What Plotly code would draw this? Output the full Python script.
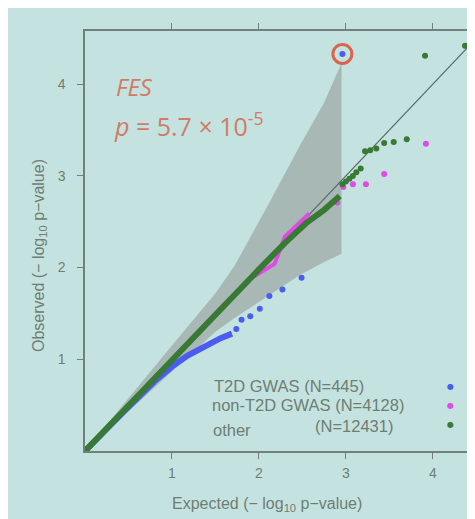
import plotly.graph_objects as go

# ---- data ----
X_RANGE = [0, 4.45]
Y_RANGE = [0, 4.58]
TICKS = [1, 2, 3, 4]

# 95% band (T2D GWAS)
BAND_X = [0, 0.5, 1.0, 1.5, 1.72, 2.08, 2.47, 2.75, 2.95]
BAND_UPPER = [0, 0.58, 1.15, 1.72, 2.02, 2.64, 3.33, 3.80, 4.23]
BAND_LOWER = [0, 0.43, 0.86, 1.30, 1.45, 1.68, 1.92, 2.06, 2.15]

# T2D GWAS (blue)
BLUE_DENSE_X = [0, 0.25, 0.5, 0.8, 1.0, 1.18, 1.37, 1.56, 1.69]
BLUE_DENSE_Y = [0, 0.25, 0.48, 0.76, 0.92, 1.04, 1.14, 1.23, 1.28]
BLUE_X = [1.74, 1.80, 1.90, 2.01, 2.12, 2.27, 2.49, 2.96]
BLUE_Y = [1.33, 1.43, 1.47, 1.55, 1.69, 1.76, 1.89, 4.33]

# non-T2D GWAS (magenta)
MAG_DENSE_X = [0, 0.5, 1.0, 1.5, 1.9, 2.05, 2.18, 2.3, 2.45, 2.58]
MAG_DENSE_Y = [0, 0.5, 1.0, 1.5, 1.88, 1.97, 2.04, 2.34, 2.48, 2.59]
MAG_X = [2.90, 2.97, 3.08, 3.23, 3.44, 3.92]
MAG_Y = [2.71, 2.88, 2.91, 2.91, 3.02, 3.35]

# other (green)
GRN_DENSE_X = [0, 0.5, 1.0, 1.5, 2.0, 2.3, 2.55, 2.75, 2.93]
GRN_DENSE_Y = [0, 0.5, 1.0, 1.49, 1.98, 2.27, 2.49, 2.63, 2.78]
GRN_X = [2.96, 3.00, 3.04, 3.08, 3.12, 3.17, 3.22, 3.28, 3.35, 3.44, 3.55, 3.70, 3.91, 4.37]
GRN_Y = [2.91, 2.94, 2.97, 3.00, 3.04, 3.08, 3.27, 3.28, 3.30, 3.36, 3.37, 3.40, 4.31, 4.42]

LEGEND_LABELS = ["T2D GWAS (N=445)", "non-T2D GWAS (N=4128)", "(N=12431)", "other"]

# ---- styles ----
BG = "#c4e3e0"
BAND = "#a8b8b4"
BLUE = "#4a5cf2"
MAG = "#e04ae6"
GRN = "#387a34"
AXIS = "#72807c"
TEXT = "#6f7d72"
SALMON = "#d07c66"
RING = "#d9654c"
FONT = "Liberation Sans, Arial, sans-serif"

fig = go.Figure()

# band polygon
fig.add_trace(go.Scatter(
    x=BAND_X + BAND_X[::-1], y=BAND_UPPER + BAND_LOWER[::-1],
    fill="toself", fillcolor=BAND, line=dict(width=0), mode="lines",
    hoverinfo="skip", showlegend=False))

# identity line
fig.add_trace(go.Scatter(
    x=[0, X_RANGE[1]], y=[0, X_RANGE[1]], mode="lines",
    line=dict(color="#5d6b67", width=1.2), showlegend=False))

def series(dx, dy, sx, sy, color, lw):
    fig.add_trace(go.Scatter(x=dx, y=dy, mode="lines",
                             line=dict(color=color, width=lw),
                             showlegend=False))
    fig.add_trace(go.Scatter(x=sx, y=sy, mode="markers",
                             marker=dict(color=color, size=6),
                             showlegend=False))

series(BLUE_DENSE_X, BLUE_DENSE_Y, BLUE_X, BLUE_Y, BLUE, 6)
series(MAG_DENSE_X, MAG_DENSE_Y, MAG_X, MAG_Y, MAG, 4)
series(GRN_DENSE_X, GRN_DENSE_Y, GRN_X, GRN_Y, GRN, 6)

# ring around the FES point (top blue point)
fig.add_trace(go.Scatter(
    x=[BLUE_X[-1]], y=[BLUE_Y[-1]], mode="markers",
    marker=dict(symbol="circle-open", size=19, color=RING,
                line=dict(width=3, color=RING)),
    showlegend=False))

ann = []
# FES annotation
ann.append(dict(x=0.33, y=3.97, xref="x", yref="y", text="<i>FES</i>",
                showarrow=False, xanchor="left", yanchor="middle",
                font=dict(family="Open Sans, sans-serif", size=24, color=SALMON)))
ann.append(dict(x=0.31, y=3.56, xref="x", yref="y",
                text="<i>p</i> = 5.7 × 10<sup>-5</sup>",
                showarrow=False, xanchor="left", yanchor="middle",
                font=dict(family="Open Sans, sans-serif", size=25, color=SALMON)))

# legend texts
leg_pos = [(1.47, 0.705), (1.45, 0.50), (2.63, 0.275), (1.46, 0.225)]
for lab, (lx, ly) in zip(LEGEND_LABELS, leg_pos):
    ann.append(dict(x=lx, y=ly, xref="x", yref="y", text=lab, showarrow=False,
                    xanchor="left", yanchor="middle", borderpad=0,
                    font=dict(family=FONT, size=16.5, color=TEXT)))
for col, ly in zip([BLUE, MAG, GRN], [0.70, 0.50, 0.29]):
    ann.append(dict(x=4.2, y=ly, xref="x", yref="y", text="●", showarrow=False,
                    xanchor="center", yanchor="middle",
                    font=dict(family="DejaVu Sans", size=8, color=col)))

# axis titles
ann.append(dict(x=0.47, y=-0.128, xref="paper", yref="paper",
                text="Expected (− log<sub>10</sub> p−value)", showarrow=False,
                xanchor="center", yanchor="middle",
                font=dict(family=FONT, size=16, color=TEXT)))
ann.append(dict(x=-0.118, y=0.465, xref="paper", yref="paper",
                text="Observed (− log<sub>10</sub> p−value)", showarrow=False,
                textangle=-90, xanchor="center", yanchor="middle",
                font=dict(family=FONT, size=16, color=TEXT)))

fig.update_layout(
    width=475, height=519,
    margin=dict(l=77, r=9, t=23, b=76),
    paper_bgcolor=BG, plot_bgcolor=BG,
    showlegend=False,
    annotations=ann,
    xaxis=dict(range=X_RANGE, tickvals=TICKS, ticks="outside", ticklen=6,
               tickcolor=AXIS, showline=True, linecolor=AXIS, linewidth=1.5,
               mirror="ticks", showgrid=False, zeroline=False,
               tickfont=dict(family=FONT, size=14, color=TEXT),
               ticklabelstandoff=2),
    yaxis=dict(range=Y_RANGE, tickvals=TICKS, ticks="outside", ticklen=6,
               tickcolor=AXIS, showline=True, linecolor=AXIS, linewidth=1.5,
               mirror=True, showgrid=False, zeroline=False,
               tickfont=dict(family=FONT, size=14, color=TEXT),
               ticklabelstandoff=9),
)

fig.write_html("out.html")
